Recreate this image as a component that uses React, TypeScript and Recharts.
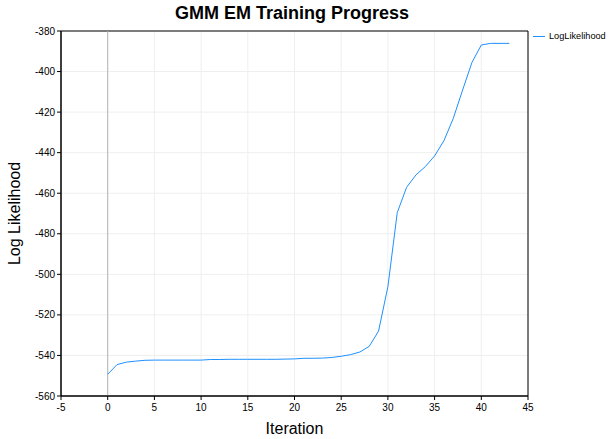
import { LineChart, Line, XAxis, YAxis, CartesianGrid, Legend, ReferenceLine, ReferenceArea } from 'recharts';

const iterations = [
  0, 1, 2, 3, 4, 5, 6, 7, 8, 9, 10, 11, 12, 13, 14, 15, 16, 17, 18, 19, 20, 21,
  22, 23, 24, 25, 26, 27, 28, 29, 30, 31, 32, 33, 34, 35, 36, 37, 38, 39, 40, 41, 42, 43
];
const logLikelihood = [
  -549.3, -544.5, -543.3, -542.8, -542.4, -542.3, -542.3, -542.3, -542.3, -542.3, -542.3,
  -542.0, -542.0, -541.9, -541.9, -541.9, -541.9, -541.9, -541.9, -541.8, -541.7, -541.4,
  -541.4, -541.3, -541.0, -540.4, -539.6, -538.3, -535.5, -528.0, -506.1, -469.6, -457.1,
  -451.0, -446.9, -441.6, -434.1, -423.1, -409.1, -395.5, -386.9, -386.1, -386.1, -386.1
];
const xTicks = [-5, 0, 5, 10, 15, 20, 25, 30, 35, 40, 45];
const yTicks = [-560, -540, -520, -500, -480, -460, -440, -420, -400, -380];

const data = iterations.map((it, i) => ({ iteration: it, LogLikelihood: logLikelihood[i] }));

const font = 'Arial, "Liberation Sans", sans-serif';
const tickStyle = { fontSize: 10, fill: '#000', fontFamily: font };

function LegendContent() {
  return (
    <div style={{ display: 'flex', alignItems: 'center', fontFamily: font, fontSize: 9.2 }}>
      <div style={{ width: 12, height: 1, background: '#1e90ff', marginRight: 4 }}></div>
      <span style={{ color: '#000' }}>LogLikelihood</span>
    </div>
  );
}

export default function App() {
  return (
    <div style={{ position: 'absolute', left: 0, top: 0, width: 609, height: 439, background: '#fff' }}>
      <div
        style={{
          position: 'absolute', left: 0, top: 3, width: 584, textAlign: 'center',
          fontFamily: font, fontWeight: 'bold', fontSize: 18, color: '#000'
        }}
      >
        GMM EM Training Progress
      </div>
      <LineChart width={609} height={439} data={data} margin={{ top: 31, right: 81, bottom: 0, left: 0 }}>
        <CartesianGrid stroke="#efefef" />
        <XAxis
          dataKey="iteration"
          type="number"
          domain={[-5, 45]}
          ticks={xTicks}
          height={43}
          tick={tickStyle}
          tickSize={4}
          tickMargin={4}
          stroke="#000"
          allowDataOverflow
          label={{ value: 'Iteration', position: 'insideBottom', offset: 5, style: { fontSize: 16, fontFamily: font, fill: '#000' } }}
        />
        <YAxis
          type="number"
          domain={[-560, -380]}
          ticks={yTicks}
          width={61}
          tick={tickStyle}
          tickSize={4}
          stroke="#000"
          allowDataOverflow
          label={{ value: 'Log Likelihood', angle: -90, position: 'insideLeft', offset: 14, style: { fontSize: 16, fontFamily: font, fill: '#000', textAnchor: 'middle' } }}
        />
        <ReferenceArea x1={-5} x2={45} y1={-560} y2={-380} fill="none" stroke="#000" strokeWidth={1} ifOverflow="visible" />
        <ReferenceLine x={0} stroke="#b4b4b4" />
        <Legend layout="vertical" align="center" verticalAlign="middle" content={<LegendContent />} wrapperStyle={{ left: 533, top: 31, width: 76, height: 14 }} />
        <Line
          type="linear"
          dataKey="LogLikelihood"
          stroke="#1e90ff"
          strokeWidth={1}
          dot={false}
          isAnimationActive={false}
        />
      </LineChart>
    </div>
  );
}
